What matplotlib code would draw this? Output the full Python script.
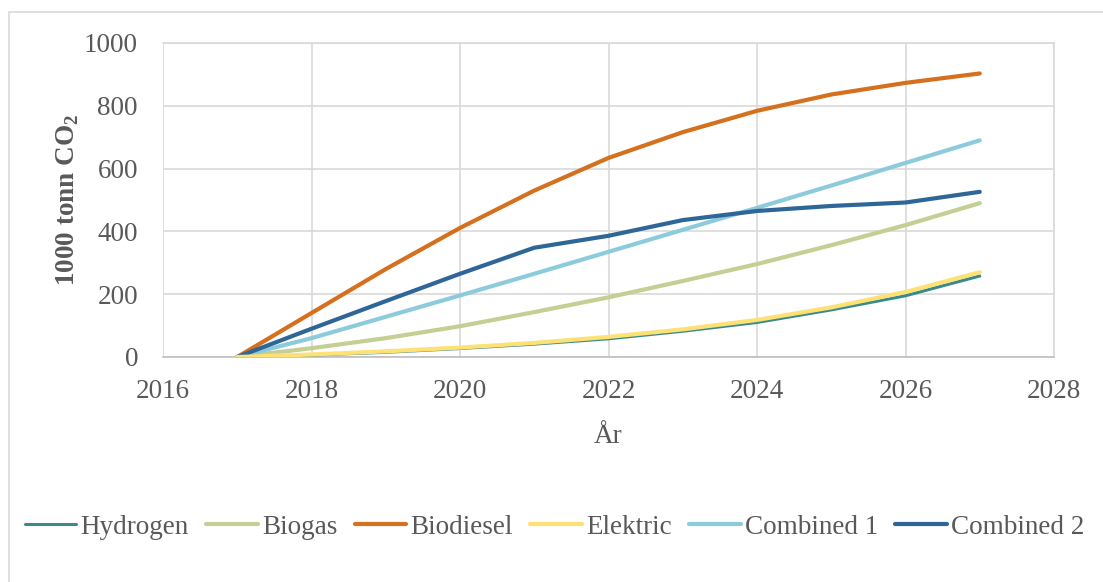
import matplotlib
matplotlib.use("Agg")
import matplotlib.pyplot as plt
from matplotlib.patches import Rectangle

# Utslipp per scenario, 1000 tonn CO2
years = [2017, 2018, 2019, 2020, 2021, 2022, 2023, 2024, 2025, 2026, 2027]
hydrogen = [0, 6, 15, 27, 41, 58, 82, 110, 150, 195, 258]
biogas = [0, 28, 60, 98, 143, 190, 242, 296, 356, 420, 490]
biodiesel = [0, 140, 280, 411, 530, 634, 716, 784, 836, 873, 903]
elektric = [0, 8, 18, 30, 45, 64, 88, 118, 158, 207, 270]
combined1 = [0, 60, 128, 196, 265, 335, 405, 475, 546, 618, 690]
combined2 = [0, 90, 178, 265, 348, 386, 436, 465, 481, 492, 526]

series = [
    ("Hydrogen", hydrogen, "#3a8a8c", 2.2),
    ("Biogas", biogas, "#c5cf93", 3.0),
    ("Biodiesel", biodiesel, "#d4701e", 3.0),
    ("Elektric", elektric, "#fde174", 3.0),
    ("Combined 1", combined1, "#8ccbdc", 3.0),
    ("Combined 2", combined2, "#2f6698", 3.0),
]

TXT = "#595959"
GRID = "#d9d9d9"
FS = 19.5
plt.rcParams["font.family"] = ["Liberation Serif", "DejaVu Serif"]

W, H = 1103, 582
fig = plt.figure(figsize=(W / 100, H / 100), dpi=100)
ax = fig.add_axes([163 / W, 1 - 357 / H, (1054 - 163) / W, (357 - 43) / H])

# Hydrogen ligger under Elektric
order = [1, 2, 4, 5, 3, 0]
for i in order:
    name, vals, col, lw = series[i]
    ax.plot(years, vals, color=col, lw=lw, label=name, solid_capstyle="round",
            zorder=4 if i == 3 else 3)

ax.set_xlim(2016, 2028)
ax.set_ylim(0, 1000)
ax.set_xticks(range(2016, 2029, 2))
ax.set_yticks(range(0, 1001, 200))
ax.grid(True, color=GRID, lw=1.2)
ax.set_axisbelow(True)
for s in ["top", "right"]:
    ax.spines[s].set_color(GRID)
    ax.spines[s].set_linewidth(1.2)
ax.spines["left"].set_visible(False)
ax.spines["bottom"].set_color("#bfbfbf")
ax.spines["bottom"].set_linewidth(1.2)
ax.tick_params(length=0, labelsize=FS, labelcolor=TXT)
ax.tick_params(axis="y", pad=18)
ax.tick_params(axis="x", pad=16)

ax.set_xlabel("År", fontsize=FS, color=TXT, labelpad=14)
ax.set_ylabel("1000 tonn CO$_\\mathregular{2}$", fontsize=FS, color=TXT,
              fontweight="bold", labelpad=2)

# tynn ramme rundt diagramområdet
fig.patches.append(Rectangle((9 / W, -0.1), 1.2, 1 - 12 / H + 0.1,
                             transform=fig.transFigure, fill=False,
                             edgecolor=GRID, lw=1.2))

handles, labels = ax.get_legend_handles_labels()
lookup = dict(zip(labels, handles))
names = [s[0] for s in series]
fig.legend([lookup[n] for n in names], names, loc="center left",
           bbox_to_anchor=(25 / W, 1 - 527 / H), ncol=6, frameon=False,
           fontsize=FS, labelcolor=TXT, handlelength=1.9,
           handletextpad=0.15, columnspacing=0.65, borderaxespad=0,
           borderpad=0)

fig.savefig("out.png", dpi=100, facecolor="white")
